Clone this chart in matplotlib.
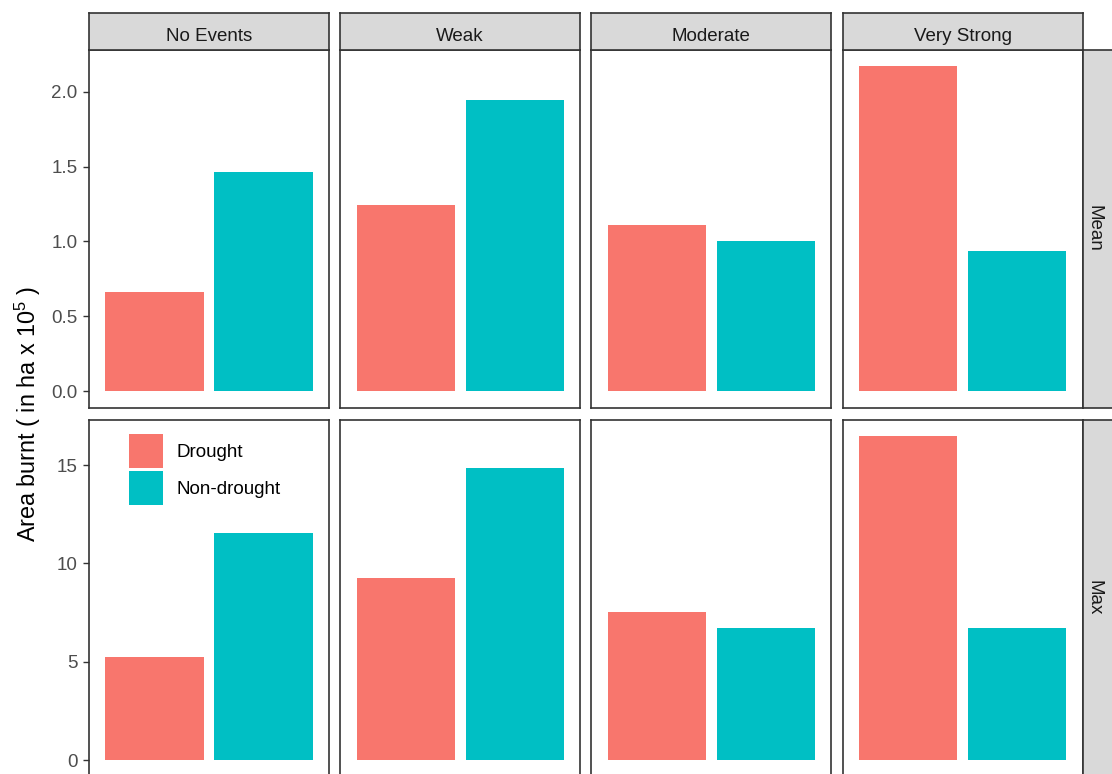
import matplotlib
matplotlib.use('Agg')
import matplotlib.pyplot as plt
import numpy as np
from matplotlib.patches import Patch
from matplotlib.ticker import FormatStrFormatter

plt.rcParams['font.family'] = ['Liberation Sans', 'DejaVu Sans']
plt.rcParams['mathtext.fontset'] = 'custom'
plt.rcParams['mathtext.rm'] = 'Liberation Sans'
plt.rcParams['mathtext.it'] = 'Liberation Sans:italic'

events = ['No Events', 'Weak', 'Moderate', 'Very Strong']
groups = ['Drought', 'Non-drought']
stats = ['Mean', 'Max']
mean_drought = [0.66, 1.245, 1.107, 2.17]
mean_nondrought = [1.467, 1.947, 1.0, 0.936]
max_drought = [5.25, 9.28, 7.53, 16.49]
max_nondrought = [11.54, 14.87, 6.70, 6.72]
mean_ticks = [0.0, 0.5, 1.0, 1.5, 2.0]
max_ticks = [0, 5, 10, 15]

colors = ['#F8766D', '#00BFC4']
W, H = 1112, 774
fs = 13.5

fig = plt.figure(figsize=(W / 100, H / 100), dpi=100)

def rect(x0, y0, x1, y1):
    # pixel box (top-left origin) -> figure fraction
    return [x0 / W, 1 - y1 / H, (x1 - x0) / W, (y1 - y0) / H]

col_x = [89 + i * 251.2 for i in range(4)]
col_w = 240
row_y = [(50, 407.5), (419.5, 776.5)]
rows = [(mean_drought, mean_nondrought, mean_ticks),
        (max_drought, max_nondrought, max_ticks)]

axes = {}
for r, (d_vals, n_vals, ticks) in enumerate(rows):
    ymax = max(max(d_vals), max(n_vals))
    pad = 0.05 * ymax
    y0, y1 = row_y[r]
    for c in range(4):
        ax = fig.add_axes(rect(col_x[c], y0, col_x[c] + col_w, y1))
        ax.bar([1, 2], [d_vals[c], n_vals[c]], width=0.9, color=colors)
        ax.set_xlim(0.4, 2.6)
        ax.set_ylim(-pad, ymax + pad)
        ax.set_xticks([])
        for s in ax.spines.values():
            s.set_color('#333333')
            s.set_linewidth(1.2)
        if c == 0:
            ax.set_yticks(ticks)
            if r == 0:
                ax.yaxis.set_major_formatter(FormatStrFormatter('%.1f'))
            ax.tick_params(axis='y', length=4.2, width=1.0, color='#333333',
                           labelcolor='#4D4D4D', labelsize=fs, pad=4)
        else:
            ax.set_yticks([])
        axes[(r, c)] = ax

# column strips along the top
for c, name in enumerate(events):
    sax = fig.add_axes(rect(col_x[c], 12.7, col_x[c] + col_w, 50))
    sax.set_facecolor('#D9D9D9')
    sax.set_xticks([]); sax.set_yticks([])
    for s in sax.spines.values():
        s.set_color('#333333'); s.set_linewidth(1.2)
    fig.text((col_x[c] + col_w / 2) / W, 1 - 40.7 / H, name, ha='center',
             va='baseline', fontsize=fs, color='#1A1A1A')

# row strips along the right
for r, name in enumerate(stats):
    y0, y1 = row_y[r]
    sax = fig.add_axes(rect(1083, y0, 1122, y1))
    sax.set_facecolor('#D9D9D9')
    sax.set_xticks([]); sax.set_yticks([])
    for s in sax.spines.values():
        s.set_color('#333333'); s.set_linewidth(1.2)
    fig.text(1089.3 / W, 1 - (y0 + y1) / 2 / H, name, rotation=-90,
             rotation_mode='anchor', ha='center', va='baseline',
             fontsize=fs, color='#1A1A1A')

fig.text(36 / W, 1 - 414 / H, r'Area burnt ( in ha x 10$^{5}$ )', rotation=90,
         rotation_mode='anchor', ha='center', va='baseline', fontsize=16.8,
         color='black')

handles = [Patch(facecolor=colors[i], label=groups[i]) for i in range(2)]
axes[(1, 0)].legend(handles=handles, loc='upper left',
                    bbox_to_anchor=(129.3 / W, 1 - 434.3 / H),
                    bbox_transform=fig.transFigure, frameon=False,
                    borderpad=0, borderaxespad=0, fontsize=fs,
                    handlelength=1.81, handleheight=2.41,
                    handletextpad=0.69, labelspacing=0.16)

fig.savefig('out.png', dpi=100)
